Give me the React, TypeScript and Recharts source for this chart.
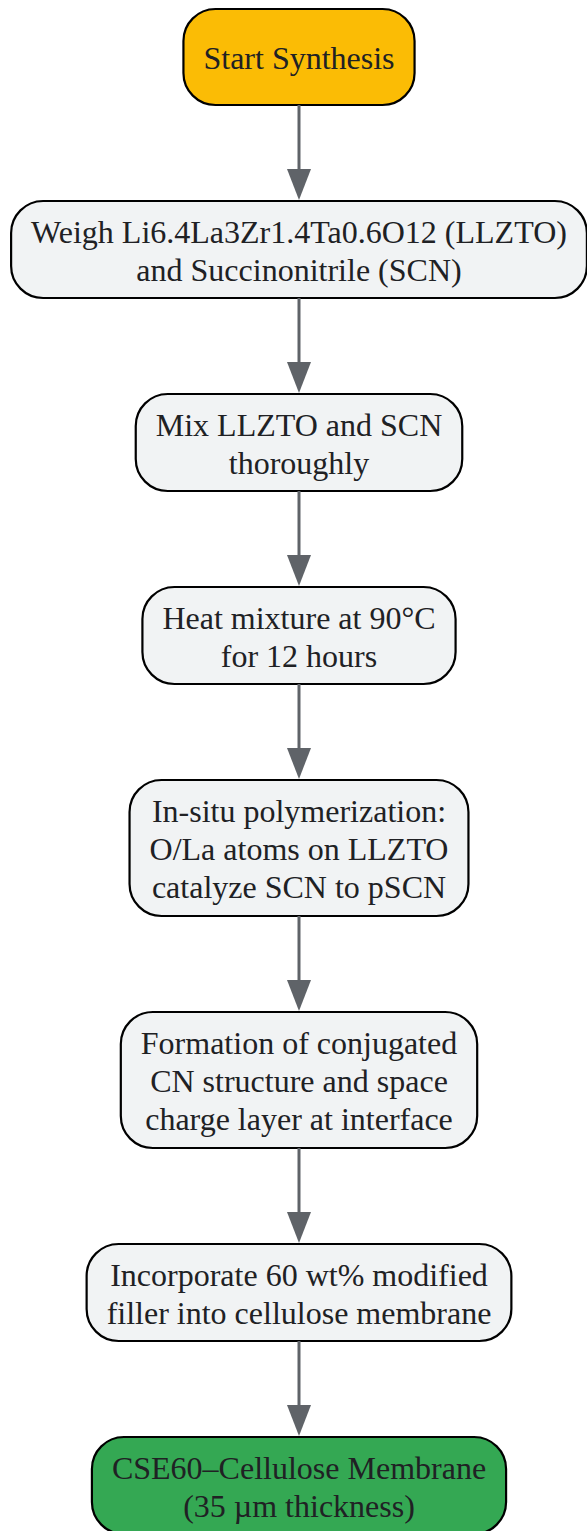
import { ScatterChart, Scatter, XAxis, YAxis } from "recharts";

// Flow steps (one entry per node, lines split by "\n")
const steps = [
    "Start Synthesis",
    "Weigh Li6.4La3Zr1.4Ta0.6O12 (LLZTO)\nand Succinonitrile (SCN)",
    "Mix LLZTO and SCN\nthoroughly",
    "Heat mixture at 90°C\nfor 12 hours",
    "In-situ polymerization:\nO/La atoms on LLZTO\ncatalyze SCN to pSCN",
    "Formation of conjugated\nCN structure and space\ncharge layer at interface",
    "Incorporate 60 wt% modified\nfiller into cellulose membrane",
    "CSE60–Cellulose Membrane\n(35 µm thickness)",
];
const kinds = ["start", "process", "process", "process", "process", "process", "process", "end"];

const W = 587;
const H = 1531;
const FONT = "Liberation Serif";
const FONT_SIZE = 32;
const LINE_H = 38;
const PAD_X = 20;
const GAP = 96;
const TOP = 9;
const CX = 299;

const FILLS: Record<string, string> = { start: "#fbbc05", process: "#f1f3f4", end: "#34a853" };

function measure(text: string) {
    const c = document.createElement("canvas").getContext("2d");
    if (!c) return text.length * FONT_SIZE * 0.45;
    c.font = `${FONT_SIZE}px "${FONT}"`;
    return c.measureText(text).width;
}

// layout: stack the nodes top to bottom
let cursor = TOP;
const nodes = steps.map((s, i) => {
    const lines = s.split("\n");
    const h = Math.max(96, 39 * lines.length + 19);
    const w = Math.max(...lines.map(measure)) + PAD_X * 2;
    const node = { x: CX, y: cursor + h / 2, h, w, lines, kind: kinds[i], idx: i };
    cursor += h + GAP;
    return node;
});

function Node(props: any) {
    const { cx, cy, payload } = props;
    const { h, w, lines, kind, idx } = payload;
    const top = cy - h / 2;
    return (
        <g>
            {idx > 0 && (
                <g>
                    <line x1={cx} y1={top - GAP} x2={cx} y2={top - 28} stroke="#5f6368" strokeWidth={3} />
                    <path d={`M${cx - 12},${top - 32} L${cx + 12},${top - 32} L${cx},${top - 1} Z`} fill="#5f6368" />
                </g>
            )}
            <rect x={cx - w / 2} y={top} width={w} height={h} rx={32} ry={32}
                fill={FILLS[kind]} stroke="#000" strokeWidth={2.2} />
            {lines.map((ln: string, i: number) => (
                <text key={i} x={cx} y={cy + (i - (lines.length - 1) / 2) * LINE_H + FONT_SIZE * 0.38}
                    textAnchor="middle" fontFamily={FONT} fontSize={FONT_SIZE} fill="#202124">
                    {ln}
                </text>
            ))}
        </g>
    );
}

export default function App() {
    return (
        <div style={{ position: "absolute", left: 0, top: 0, background: "#fff" }}>
            <ScatterChart width={W} height={H} margin={{ top: 0, right: 0, bottom: 0, left: 0 }}>
                <XAxis type="number" dataKey="x" domain={[0, W]} hide />
                <YAxis type="number" dataKey="y" domain={[0, H]} reversed hide />
                <Scatter data={nodes} shape={Node} isAnimationActive={false} />
            </ScatterChart>
        </div>
    );
}
